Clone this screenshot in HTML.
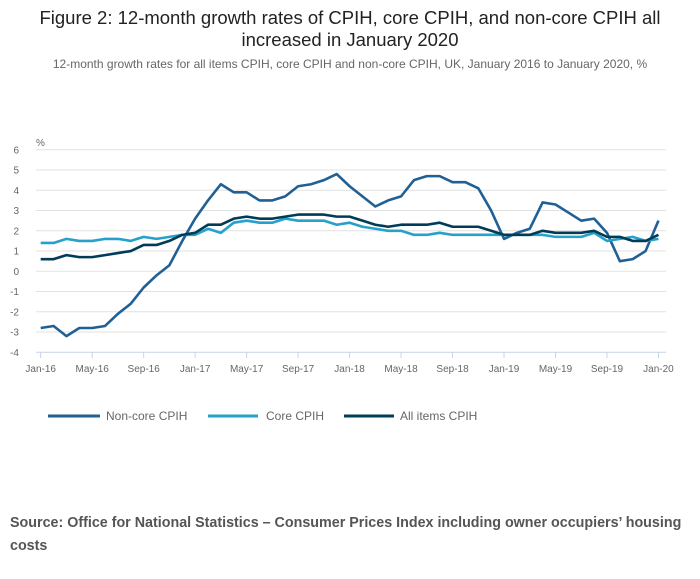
<!DOCTYPE html>
<html><head><meta charset="utf-8"><style>
body{margin:0;background:#fff;font-family:"Liberation Sans",sans-serif;}
</style></head><body>
<svg width="700" height="574" xmlns="http://www.w3.org/2000/svg">
<text x="350" y="24" text-anchor="middle" font-size="18.5" fill="#222">Figure 2: 12-month growth rates of CPIH, core CPIH, and non-core CPIH all</text>
<text x="350" y="46" text-anchor="middle" font-size="18.5" fill="#222">increased in January 2020</text>
<text x="350" y="68" text-anchor="middle" font-size="12" fill="#666">12-month growth rates for all items CPIH, core CPIH and non-core CPIH, UK, January 2016 to January 2020, %</text>
<text x="36" y="146" font-size="10" fill="#666">%</text>
<g id="grid"></g><g id="xt"></g><g id="lines"></g>
<g>
<line x1="48" y1="416" x2="100" y2="416" stroke="#206095" stroke-width="3"/>
<text x="106" y="420" font-size="12" fill="#666">Non-core CPIH</text>
<line x1="208" y1="416" x2="258" y2="416" stroke="#27a0cc" stroke-width="3"/>
<text x="266" y="420" font-size="12" fill="#666">Core CPIH</text>
<line x1="344" y1="416" x2="394" y2="416" stroke="#003c57" stroke-width="3"/>
<text x="400" y="420" font-size="12" fill="#666">All items CPIH</text>
</g>
<text x="10" y="527" font-size="14.3" font-weight="bold" fill="#555">Source: Office for National Statistics – Consumer Prices Index including owner occupiers’ housing</text>
<text x="10" y="550" font-size="14.3" font-weight="bold" fill="#555">costs</text>
</svg>
<script>
const yTicks=[6,5,4,3,2,1,0,-1,-2,-3,-4];
const xTickLabels=["Jan-16","May-16","Sep-16","Jan-17","May-17","Sep-17","Jan-18","May-18","Sep-18","Jan-19","May-19","Sep-19","Jan-20"];
const nonCore=[-2.8,-2.7,-3.2,-2.8,-2.8,-2.7,-2.1,-1.6,-0.8,-0.2,0.3,1.5,2.6,3.5,4.3,3.9,3.9,3.5,3.5,3.7,4.2,4.3,4.5,4.8,4.2,3.7,3.2,3.5,3.7,4.5,4.7,4.7,4.4,4.4,4.1,3.0,1.6,1.9,2.1,3.4,3.3,2.9,2.5,2.6,1.9,0.5,0.6,1.0,2.5];
const core=[1.4,1.4,1.6,1.5,1.5,1.6,1.6,1.5,1.7,1.6,1.7,1.8,1.8,2.1,1.9,2.4,2.5,2.4,2.4,2.6,2.5,2.5,2.5,2.3,2.4,2.2,2.1,2.0,2.0,1.8,1.8,1.9,1.8,1.8,1.8,1.8,1.8,1.8,1.8,1.8,1.7,1.7,1.7,1.9,1.5,1.6,1.7,1.5,1.6];
const allItems=[0.6,0.6,0.8,0.7,0.7,0.8,0.9,1.0,1.3,1.3,1.5,1.8,1.9,2.3,2.3,2.6,2.7,2.6,2.6,2.7,2.8,2.8,2.8,2.7,2.7,2.5,2.3,2.2,2.3,2.3,2.3,2.4,2.2,2.2,2.2,2.0,1.8,1.8,1.8,2.0,1.9,1.9,1.9,2.0,1.7,1.7,1.5,1.5,1.8];
const NS="http://www.w3.org/2000/svg";
const x=i=>40.7+i*12.87, y=v=>271.3-v*20.25;
const grid=document.getElementById('grid');
yTicks.forEach(t=>{
 const l=document.createElementNS(NS,'line');
 
 
 l.setAttribute('x1',36);l.setAttribute('x2',666);l.setAttribute('y1',y(t));l.setAttribute('y2',y(t));
 l.setAttribute('stroke',t===-4?'#c8d4e8':'#e2e2e2');l.setAttribute('stroke-width',1);grid.appendChild(l);
 const tx=document.createElementNS(NS,'text');
 
 
 tx.setAttribute('x',19);tx.setAttribute('y',y(t)+3.5);tx.setAttribute('text-anchor','end');
 tx.setAttribute('font-size',10);tx.setAttribute('fill','#666');tx.textContent=t;grid.appendChild(tx);
});
const xt=document.getElementById('xt');
xTickLabels.forEach((lab,k)=>{
 const xx=x(k*4);
 const l=document.createElementNS(NS,'line');
 
 
 l.setAttribute('x1',xx);l.setAttribute('x2',xx);l.setAttribute('y1',352);l.setAttribute('y2',358);
 l.setAttribute('stroke','#c8d4e8');xt.appendChild(l);
 const tx=document.createElementNS(NS,'text');
 
 
 tx.setAttribute('x',xx);tx.setAttribute('y',372);tx.setAttribute('text-anchor','middle');
 tx.setAttribute('font-size',10);tx.setAttribute('fill','#666');tx.textContent=lab;xt.appendChild(tx);
});
const lines=document.getElementById('lines');
[[nonCore,'#206095','noncore-line'],[core,'#27a0cc','core-line'],[allItems,'#003c57','all-items-line']].forEach(([d,c,n])=>{
 const p=document.createElementNS(NS,'polyline');
 
 
 p.setAttribute('points',d.map((v,i)=>x(i)+','+y(v)).join(' '));
 p.setAttribute('fill','none');p.setAttribute('stroke',c);p.setAttribute('stroke-width',2.6);
 p.setAttribute('stroke-linejoin','round');lines.appendChild(p);
});
</script>
</body></html>
